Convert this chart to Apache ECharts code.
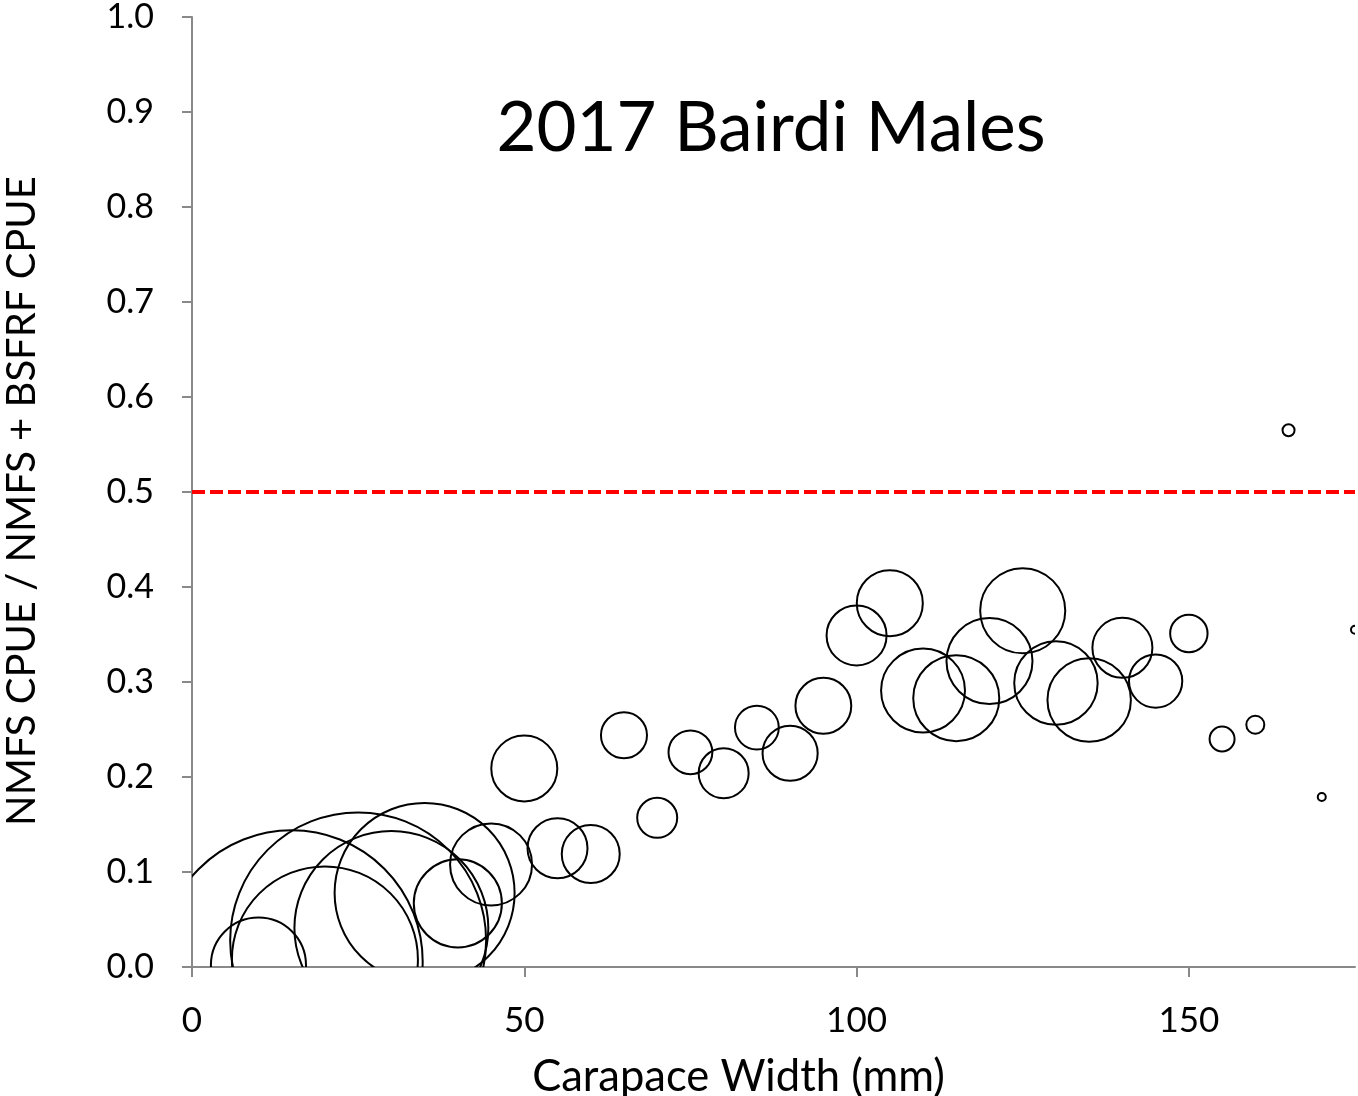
<!DOCTYPE html>
<html>
<head>
<meta charset="utf-8">
<title>2017 Bairdi Males</title>
<script src="https://cdn.jsdelivr.net/npm/echarts@6/dist/echarts.min.js"></script>
<style>
  html, body { margin: 0; padding: 0; background: #fff; }
  #chart { width: 1358px; height: 1096px; }
</style>
</head>
<body>
<div id="chart"></div>
<script>
// carapace width bins (mm)
var widths = [10, 15, 20, 25, 30, 35, 40, 45, 50, 55, 60, 65, 70, 75, 80, 85, 90, 95,
  100, 105, 110, 115, 120, 125, 130, 135, 140, 145, 150, 155, 160, 165, 170, 175];
// NMFS CPUE / (NMFS + BSFRF CPUE)
var ratios = [0.002, 0.006, 0.008, 0.028, 0.041, 0.078, 0.067, 0.108, 0.209, 0.125, 0.119, 0.244,
  0.157, 0.226, 0.204, 0.252, 0.225, 0.275, 0.349, 0.383, 0.291, 0.283, 0.322, 0.375,
  0.299, 0.281, 0.336, 0.301, 0.351, 0.240, 0.255, 0.565, 0.179, 0.355];
// bubble values (area)
var bubbleVals = [22.6, 171.6, 86.5, 163.8, 94, 81, 19.4, 16.8, 10.9, 9.0, 8.4, 5.3,
  4.0, 4.8, 6.25, 4.8, 7.6, 7.8, 9.0, 10.9, 17.6, 18.5, 18.5, 18.1,
  17.4, 17.4, 9.0, 7.1, 3.5, 1.56, 0.81, 0.36, 0.16, 0.16];
var xTicks = [0, 50, 100, 150];
var threshold = 0.5;

var points = [];
for (var i = 0; i < widths.length; i++) {
  points.push([widths[i], ratios[i], bubbleVals[i]]);
}

var chart = echarts.init(document.getElementById('chart'));
var font = 'Lato, "Open Sans", sans-serif';

var option = {
  animation: false,
  title: {
    text: '2017 Bairdi Males',
    left: 766,
    top: 89,
    textAlign: 'center',
    textStyle: { fontFamily: font, fontSize: 69, fontWeight: 'normal', color: '#000' }
  },
  grid: {
    left: 192,
    right: 3,
    top: 17,
    bottom: 129,
    outerBoundsMode: 'none'
  },
  xAxis: {
    type: 'value',
    min: 0,
    max: 175,
    interval: 50,
    name: 'Carapace Width (mm)',
    nameLocation: 'middle',
    nameGap: 88,
    nameTextStyle: { fontFamily: font, fontSize: 43.5, color: '#000', padding: [0, 70, 0, 0] },
    axisLine: { show: true, lineStyle: { color: '#898989', width: 2 } },
    axisTick: { show: true, length: 10, lineStyle: { color: '#898989', width: 2 },
      customValues: xTicks },
    axisLabel: { fontFamily: font, fontSize: 35, color: '#000', margin: 36,
      customValues: xTicks },
    splitLine: { show: false }
  },
  yAxis: {
    type: 'value',
    min: 0,
    max: 1,
    interval: 0.1,
    name: 'NMFS CPUE / NMFS + BSFRF CPUE',
    nameLocation: 'middle',
    nameGap: 150,
    nameTextStyle: { fontFamily: font, fontSize: 40, color: '#000', padding: [0, 18, 0, 0] },
    axisLine: { show: true, lineStyle: { color: '#898989', width: 2 } },
    axisTick: { show: true, length: 10, lineStyle: { color: '#898989', width: 2 } },
    axisLabel: {
      fontFamily: font, fontSize: 34, color: '#000', margin: 38,
      formatter: function (v) { return v.toFixed(1); }
    },
    splitLine: { show: false }
  },
  series: [
    {
      type: 'line',
      data: [[0, threshold], [175, threshold]],
      symbol: 'none',
      silent: true,
      lineStyle: { color: '#ff0000', width: 4, type: [13, 5] },
      z: 1
    },
    {
      type: 'custom',
      clip: true,
      data: points,
      renderItem: function (params, api) {
        var c = api.coord([api.value(0), api.value(1)]);
        var r = 10 * Math.sqrt(api.value(2));
        return {
          type: 'circle',
          shape: { cx: c[0], cy: c[1], r: r },
          style: { fill: 'none', stroke: '#000', lineWidth: 2 }
        };
      },
      z: 2
    }
  ]
};

chart.setOption(option);
</script>
</body>
</html>
